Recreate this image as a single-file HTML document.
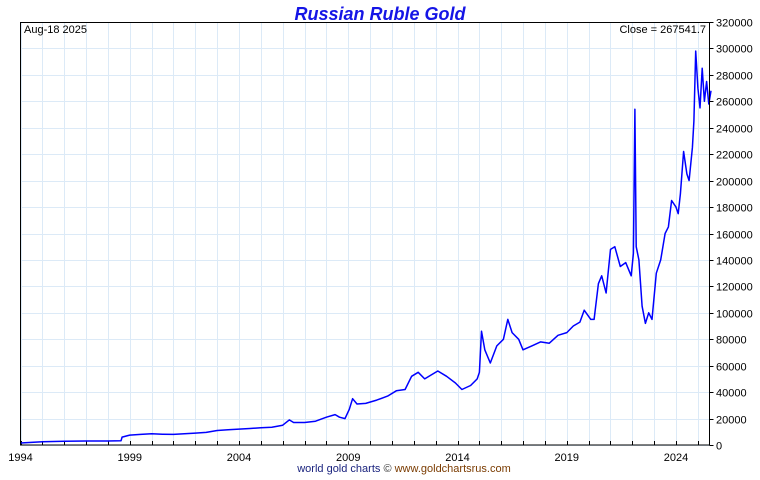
<!DOCTYPE html>
<html><head><meta charset="utf-8"><style>
body{margin:0;background:#fff;width:760px;height:475px;overflow:hidden;font-family:"Liberation Sans",sans-serif}
</style></head><body>
<svg id="chart" width="760" height="475" xmlns="http://www.w3.org/2000/svg" font-family="Liberation Sans, sans-serif">
<text x="380" y="20" text-anchor="middle" font-size="18" font-weight="bold" font-style="italic" fill="#1515e6">Russian Ruble Gold</text>
<g id="grid"></g>
<g id="axes"></g>
<path id="line" fill="none" stroke="#0000ff" stroke-width="1.5" stroke-linejoin="round"/>
<rect x="20.5" y="22.5" width="689" height="422.5" fill="none" stroke="#000" stroke-width="1"/>
<text x="24" y="33" font-size="11" fill="#000">Aug-18  2025</text>
<text x="706" y="33" font-size="11" fill="#000" text-anchor="end">Close = 267541.7</text>
<text x="404" y="472" font-size="11" text-anchor="middle"><tspan fill="#1a237e">world gold charts</tspan><tspan fill="#333"> © </tspan><tspan fill="#7a3b00">www.goldchartsrus.com</tspan></text>
</svg>
<script>
const years = [1994,1994.5,1995,1996,1997,1998,1998.6,1998.65,1999,1999.5,2000,2000.5,2001,2002,2002.5,2003,2003.5,2004,2004.5,2005,2005.5,2006,2006.3,2006.5,2007,2007.5,2008,2008.4,2008.6,2008.85,2009.05,2009.2,2009.4,2009.8,2010.3,2010.8,2011.2,2011.6,2011.9,2012.2,2012.5,2012.8,2013.1,2013.5,2013.9,2014.2,2014.6,2014.9,2015.0,2015.1,2015.25,2015.5,2015.8,2016.1,2016.3,2016.5,2016.8,2017.0,2017.4,2017.8,2018.2,2018.6,2019.0,2019.3,2019.6,2019.8,2020.1,2020.25,2020.45,2020.6,2020.8,2021.0,2021.2,2021.45,2021.7,2021.95,2022.05,2022.12,2022.18,2022.3,2022.45,2022.6,2022.75,2022.9,2023.1,2023.3,2023.5,2023.65,2023.8,2024.0,2024.1,2024.2,2024.35,2024.5,2024.6,2024.75,2024.82,2024.9,2025.0,2025.1,2025.2,2025.3,2025.4,2025.5,2025.6];
const values = [1500,2000,2500,2800,3000,3000,3200,6000,7500,8000,8500,8200,8000,9000,9500,11000,11500,12000,12500,13000,13500,15000,19000,17000,17000,18000,21000,23000,21000,20000,27000,35000,31000,31500,34000,37000,41000,42000,52000,55000,50000,53000,56000,52000,47000,42000,45000,50000,55000,86000,72000,62000,75000,80000,95000,85000,80000,72000,75000,78000,77000,83000,85000,90000,93000,102000,95000,95000,122000,128000,115000,148000,150000,135000,138000,128000,145000,254000,150000,140000,105000,92000,100000,95000,130000,140000,160000,165000,185000,180000,175000,190000,222000,205000,200000,225000,245000,298000,270000,255000,285000,260000,275000,258000,268000,267500];
const yTicks = [0,20000,40000,60000,80000,100000,120000,140000,160000,180000,200000,220000,240000,260000,280000,300000,320000];
const xTickYears = [1994,1999,2004,2009,2014,2019,2024];
const NS="http://www.w3.org/2000/svg";
const X0=20.5,X1=709.5,Y0=445,Y1=22;
function xs(y){return X0+(y-1994)*21.85;}
function ys(v){return Y0-(v/320000)*(Y0-Y1);}
const grid=document.getElementById('grid'),axes=document.getElementById('axes');
function mk(tag,attrs,parent){const e=document.createElementNS(NS,tag);for(const k in attrs)e.setAttribute(k,attrs[k]);parent.appendChild(e);return e;}
yTicks.forEach(v=>{const y=Math.round(ys(v))+0.5;
 const g=mk('line',{x1:X0,x2:X1,y1:y,y2:y,stroke:'#dceaf7','stroke-width':1},grid);
 
 
 const t=mk('line',{x1:X1,x2:X1+4,y1:y,y2:y,stroke:'#000'},axes);
 
 
 const l=mk('text',{x:716,y:y+4,'font-size':11,fill:'#000'},axes);l.textContent=v;
 
 
});
for(let yr=1994;yr<=2025;yr++){const x=Math.round(xs(yr))+0.5;
 const g=mk('line',{x1:x,x2:x,y1:Y1,y2:Y0,stroke:'#dceaf7','stroke-width':1},grid);
 
 
 const t=mk('line',{x1:x,x2:x,y1:Y0,y2:Y0-4,stroke:'#000'},axes);
 
 
}
xTickYears.forEach(yr=>{const l=mk('text',{x:xs(yr),y:461,'font-size':11,fill:'#000','text-anchor':'middle'},axes);l.textContent=yr;
 
 
});
document.getElementById('line').setAttribute('d',years.map((y,i)=>(i?'L':'M')+xs(y).toFixed(1)+','+ys(values[i]).toFixed(1)).join(''));
</script>
</body></html>
